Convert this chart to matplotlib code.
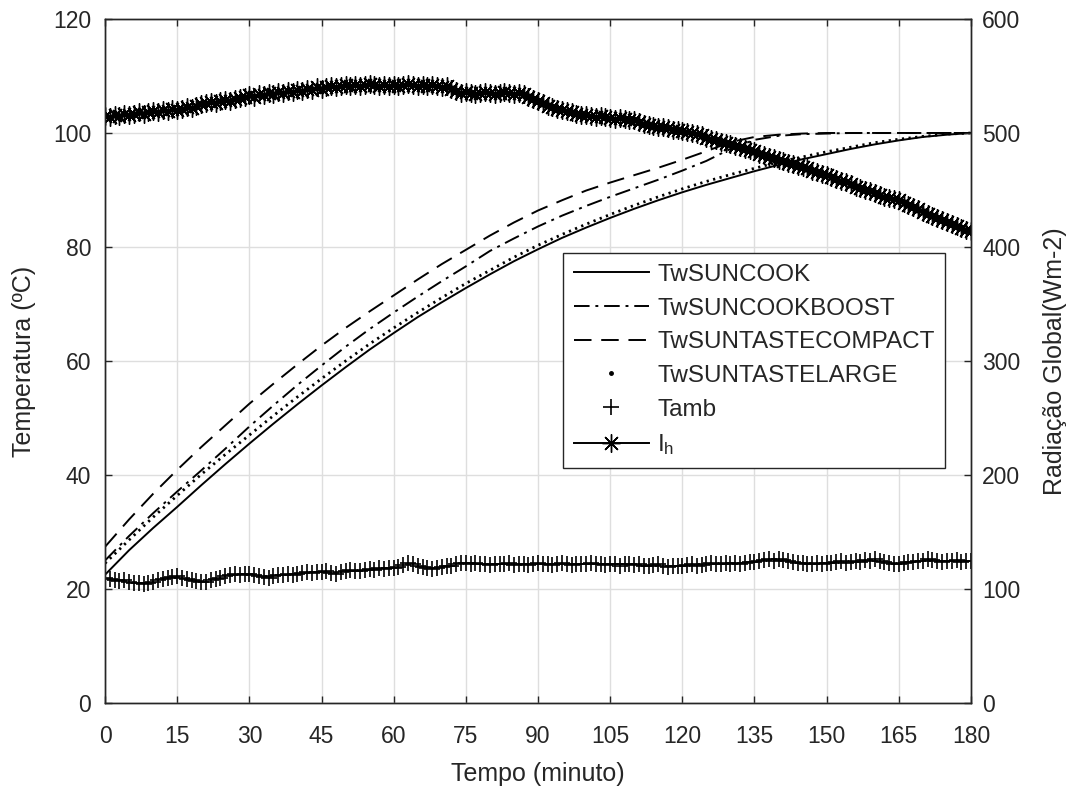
import matplotlib
matplotlib.use("Agg")
import matplotlib.pyplot as plt
from matplotlib.lines import Line2D
import numpy as np

plt.rcParams["font.family"] = ["Liberation Sans", "DejaVu Sans"]
plt.rcParams["mathtext.fontset"] = "custom"
plt.rcParams["mathtext.rm"] = "Liberation Sans"
plt.rcParams["mathtext.it"] = "Liberation Sans"

# water temperature curves, sampled every 5 minutes
t5 = np.arange(0, 181, 5)
tw_suncook = [22.5, 26.8, 30.7, 34.4, 38.2, 41.9, 45.5, 49.0, 52.4, 55.7,
              58.9, 62.0, 64.9, 67.7, 70.3, 72.8, 75.2, 77.5, 79.6, 81.6,
              83.4, 85.1, 86.7, 88.2, 89.6, 90.9, 92.1, 93.3, 94.4, 95.4,
              96.3, 97.2, 98.0, 98.7, 99.3, 99.7, 100.0]
tw_suncookboost = [25.0, 29.3, 33.3, 37.1, 40.8, 44.6, 48.5, 52.2, 55.8, 59.2,
                   62.5, 65.6, 68.5, 71.3, 74.0, 76.6, 79.3, 81.5, 83.6, 85.5,
                   87.2, 88.8, 90.3, 91.8, 93.4, 95.1, 97.2, 98.8, 99.5, 99.8,
                   99.9, 100.0, 100.0, 100.0, 100.0, 100.0, 100.0]
tw_suntastecompact = [27.4, 32.2, 36.7, 40.9, 44.9, 48.7, 52.5, 56.0, 59.4, 62.7,
                      65.8, 68.7, 71.5, 74.3, 77.0, 79.5, 82.0, 84.3, 86.4, 88.2,
                      89.9, 91.3, 92.6, 93.9, 95.3, 96.8, 98.4, 99.3, 99.7, 99.9,
                      100.0, 100.0, 100.0, 100.0, 100.0, 100.0, 100.0]
tw_suntastelarge = [24.5, 28.6, 32.6, 36.4, 40.1, 43.6, 47.0, 50.4, 53.7, 56.9,
                    60.0, 63.0, 65.8, 68.5, 71.1, 73.6, 75.9, 78.2, 80.3, 82.2,
                    84.0, 85.7, 87.3, 88.8, 90.2, 91.5, 92.7, 93.8, 94.9, 95.8,
                    96.7, 97.5, 98.3, 98.9, 99.4, 99.8, 100.0]

# ambient temperature and global radiation, one reading per minute
t1 = np.arange(0, 181, 1)
tamb = [22.0, 21.8, 21.6, 21.4, 21.5, 21.2, 21.0, 21.1, 20.9, 21.0,
        21.3, 21.5, 21.7, 21.9, 22.1, 22.2, 22.0, 21.8, 21.6, 21.4,
        21.2, 21.3, 21.6, 21.8, 22.0, 22.3, 22.5, 22.6, 22.4, 22.6,
        22.7, 22.5, 22.3, 22.1, 22.0, 22.2, 22.4, 22.5, 22.6, 22.5,
        22.6, 22.8, 22.9, 22.8, 23.0, 22.9, 23.1, 22.8, 22.7, 23.0,
        23.2, 23.3, 23.1, 23.2, 23.4, 23.5, 23.3, 23.6, 23.5, 23.7,
        23.6, 23.9, 24.2, 24.5, 24.3, 24.0, 23.8, 23.6, 23.5, 23.7,
        23.8, 24.0, 24.1, 24.3, 24.5, 24.6, 24.4, 24.5, 24.3, 24.4,
        24.2, 24.3, 24.4, 24.3, 24.5, 24.2, 24.4, 24.3, 24.2, 24.4,
        24.5, 24.3, 24.4, 24.2, 24.3, 24.5, 24.4, 24.2, 24.3, 24.4,
        24.3, 24.5, 24.3, 24.4, 24.2, 24.4, 24.3, 24.1, 24.3, 24.4,
        24.2, 24.3, 24.1, 24.0, 24.2, 24.3, 24.1, 23.9, 24.0, 24.1,
        24.0, 24.2, 24.3, 24.1, 24.2, 24.4, 24.5, 24.3, 24.4, 24.6,
        24.4, 24.5, 24.3, 24.6, 24.8, 24.7, 24.9, 25.1, 25.2, 25.0,
        25.3, 25.1, 24.9, 24.7, 24.6, 24.5, 24.4, 24.3, 24.5, 24.4,
        24.6, 24.5, 24.7, 24.9, 24.6, 24.8, 25.0, 24.8, 25.1, 25.0,
        25.2, 24.9, 24.7, 24.5, 24.3, 24.4, 24.6, 24.8, 24.7, 24.9,
        25.0, 25.2, 25.1, 24.9, 24.8, 25.0, 24.9, 25.1, 24.8, 24.9,
        24.9]
ih = [515, 514, 516, 515, 517, 516, 517, 518, 517, 518,
      519, 518, 520, 519, 521, 520, 521, 523, 522, 524,
      525, 526, 527, 526, 528, 529, 528, 530, 531, 532,
      533, 532, 534, 533, 535, 534, 536, 535, 537, 536,
      538, 537, 539, 538, 540, 539, 540, 541, 540, 541,
      542, 541, 542, 541, 542, 543, 542, 541, 542, 541,
      542, 541, 542, 543, 542, 541, 542, 541, 542, 541,
      540, 541, 539, 537, 535, 536, 535, 534, 535, 536,
      535, 534, 535, 536, 535, 534, 535, 534, 532, 530,
      528, 526, 524, 523, 521, 520, 519, 518, 517, 516,
      516, 515, 514, 515, 514, 513, 512, 513, 512, 511,
      511, 510, 508, 507, 506, 505, 505, 504, 503, 503,
      502, 501, 500, 499, 498, 496, 495, 494, 492, 491,
      490, 489, 488, 486, 485, 484, 482, 481, 479, 478,
      476, 475, 474, 473, 471, 470, 469, 467, 466, 464,
      463, 461, 460, 458, 457, 455, 453, 452, 450, 449,
      447, 446, 444, 443, 442, 441, 439, 437, 435, 433,
      431, 429, 427, 425, 424, 422, 420, 418, 417, 415,
      414]

xticks = np.arange(0, 181, 15)
txt = "#262626"

fig = plt.figure(figsize=(10.76, 7.94), dpi=100)
ax = fig.add_axes([0.0976, 0.1146, 0.8048, 0.8615])
ax2 = ax.twinx()

lw = 1.4
asterisk = (8, 2, 0)
l1, = ax.plot(t5, tw_suncook, color="k", lw=lw, ls="-", label="TwSUNCOOK")
l2, = ax.plot(t5, tw_suncookboost, color="k", lw=lw,
              dashes=(8, 3, 1.5, 3), label="TwSUNCOOKBOOST")
l3, = ax.plot(t5, tw_suntastecompact, color="k", lw=lw,
              dashes=(9, 5), label="TwSUNTASTECOMPACT")
ax.plot(t5, tw_suntastelarge, color="k", lw=2.0, dashes=(0.8, 1.6))
l5, = ax.plot(t1, tamb, color="k", ls="none", marker="+", ms=11, mew=1.2,
              label="Tamb")
l6, = ax2.plot(t1, ih, color="k", lw=lw, marker=asterisk, ms=13, mew=1.0,
               label=r"I$_\mathrm{h}$")

# marker-only handle for the dotted curve
l4 = Line2D([], [], color="k", ls="none", marker=".", ms=5,
            label="TwSUNTASTELARGE")

ax.set_xlim(0, 180)
ax.set_ylim(0, 120)
ax2.set_ylim(0, 600)
ax.set_xticks(xticks)
ax.set_yticks(np.arange(0, 121, 20))
ax2.set_yticks(np.arange(0, 601, 100))

ax.grid(True, color="#dedede", lw=1.0)
ax.set_axisbelow(True)

for a in (ax, ax2):
    for s in a.spines.values():
        s.set_color(txt)
        s.set_linewidth(1.0)
    a.tick_params(direction="in", length=5, width=1.0, colors=txt,
                  labelsize=16.5)
ax.tick_params(axis="x", top=True, pad=16)
ax.tick_params(axis="y", pad=10)
ax2.tick_params(axis="y", pad=8)

ax.set_xlabel("Tempo (minuto)", fontsize=18, color=txt, labelpad=10)
ax.set_ylabel("Temperatura (ºC)", fontsize=18, color=txt, labelpad=12)
ax2.set_ylabel("Radiação Global(Wm-2)", fontsize=18, color=txt, labelpad=16)

leg = ax2.legend(handles=[l1, l2, l3, l4, l5, l6],
                 loc="upper left", bbox_to_anchor=(0.5285, 0.658, 0.4415, 0.0),
                 mode="expand",
                 fontsize=17.5, frameon=True, fancybox=False,
                 borderaxespad=0, handlelength=3.1, handletextpad=0.35,
                 labelspacing=0.48, borderpad=0.45, numpoints=1)
leg.get_frame().set_edgecolor(txt)
leg.get_frame().set_linewidth(1.0)
leg.get_frame().set_alpha(1.0)
for t in leg.get_texts():
    t.set_color(txt)

fig.savefig("out.png", dpi=100)
